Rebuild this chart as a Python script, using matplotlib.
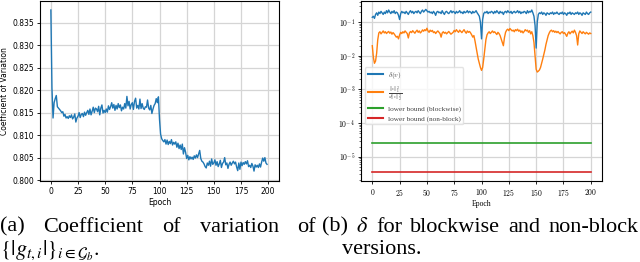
import numpy as np
import matplotlib as mpl
mpl.use('Agg')
from matplotlib import pyplot as plt

# ----- data
cv_values = [
    0.8378, 0.8205, 0.8138, 0.8172, 0.8181, 0.8188, 0.8163, 0.8160, 0.8157, 0.8154,
    0.8150, 0.8152, 0.8142, 0.8146, 0.8138, 0.8141, 0.8137, 0.8143, 0.8139, 0.8145,
    0.8136, 0.8140, 0.8147, 0.8129, 0.8138, 0.8142, 0.8150, 0.8139, 0.8146, 0.8148,
    0.8141, 0.8151, 0.8144, 0.8150, 0.8155, 0.8146, 0.8158, 0.8145, 0.8153, 0.8162,
    0.8150, 0.8160, 0.8158, 0.8152, 0.8164, 0.8145, 0.8160, 0.8167, 0.8149, 0.8155,
    0.8150, 0.8158, 0.8151, 0.8165, 0.8157, 0.8163, 0.8172, 0.8160, 0.8168, 0.8155,
    0.8166, 0.8158, 0.8170, 0.8161, 0.8167, 0.8154, 0.8162, 0.8158, 0.8170, 0.8160,
    0.8186, 0.8165, 0.8175, 0.8158, 0.8168, 0.8172, 0.8157, 0.8175, 0.8182, 0.8160,
    0.8166, 0.8158, 0.8180, 0.8159, 0.8170, 0.8160, 0.8157, 0.8163, 0.8162, 0.8178,
    0.8160, 0.8156, 0.8166, 0.8148, 0.8158, 0.8166, 0.8170, 0.8181, 0.8172, 0.8185,
    0.8135, 0.8102, 0.8092, 0.8088, 0.8085, 0.8090, 0.8080, 0.8089, 0.8079, 0.8086,
    0.8081, 0.8090, 0.8078, 0.8084, 0.8080, 0.8085, 0.8073, 0.8082, 0.8070, 0.8078,
    0.8068, 0.8080, 0.8058, 0.8072, 0.8062, 0.8048, 0.8055, 0.8045, 0.8052, 0.8047,
    0.8051, 0.8046, 0.8054, 0.8049, 0.8056, 0.8050, 0.8058, 0.8066, 0.8048, 0.8042,
    0.8040, 0.8036, 0.8030, 0.8027, 0.8038, 0.8033, 0.8042, 0.8031, 0.8047, 0.8035,
    0.8038, 0.8045, 0.8033, 0.8041, 0.8030, 0.8036, 0.8044, 0.8028, 0.8037, 0.8040,
    0.8050, 0.8034, 0.8038, 0.8026, 0.8035, 0.8040, 0.8033, 0.8038, 0.8042, 0.8036,
    0.8040, 0.8029, 0.8021, 0.8038, 0.8024, 0.8040, 0.8032, 0.8039, 0.8035, 0.8041,
    0.8036, 0.8043, 0.8030, 0.8033, 0.8028, 0.8037, 0.8031, 0.8020, 0.8034, 0.8029,
    0.8033, 0.8028, 0.8036, 0.8029, 0.8040, 0.8049, 0.8042, 0.8050, 0.8038, 0.8035,
]

delta_v = [
    0.14, 0.15, 0.13, 0.17, 0.19, 0.16, 0.20, 0.18, 0.21, 0.19,
    0.17, 0.20, 0.18, 0.22, 0.19, 0.23, 0.20, 0.18, 0.21, 0.19,
    0.22, 0.18, 0.20, 0.19, 0.16, 0.12, 0.18, 0.21, 0.19, 0.20,
    0.18, 0.21, 0.19, 0.17, 0.20, 0.22, 0.19, 0.21, 0.18, 0.20,
    0.21, 0.19, 0.22, 0.20, 0.18, 0.21, 0.23, 0.20, 0.22, 0.24,
    0.22, 0.20, 0.21, 0.19, 0.20, 0.18, 0.21, 0.19, 0.16, 0.20,
    0.21, 0.19, 0.20, 0.18, 0.22, 0.19, 0.17, 0.20, 0.21, 0.19,
    0.18, 0.20, 0.22, 0.19, 0.21, 0.20, 0.18, 0.21, 0.19, 0.20,
    0.22, 0.19, 0.20, 0.18, 0.21, 0.19, 0.20, 0.22, 0.19, 0.21,
    0.20, 0.18, 0.21, 0.19, 0.20, 0.22, 0.19, 0.17, 0.15, 0.10,
    0.032, 0.12, 0.18, 0.20, 0.19, 0.21, 0.18, 0.20, 0.19, 0.21,
    0.20, 0.18, 0.21, 0.19, 0.22, 0.20, 0.18, 0.21, 0.19, 0.20,
    0.17, 0.20, 0.21, 0.19, 0.22, 0.20, 0.19, 0.21, 0.18, 0.20,
    0.21, 0.19, 0.20, 0.22, 0.19, 0.21, 0.18, 0.20, 0.19, 0.21,
    0.20, 0.18, 0.22, 0.19, 0.21, 0.20, 0.23, 0.19, 0.15, 0.08,
    0.017, 0.10, 0.17, 0.19, 0.18, 0.20, 0.17, 0.19, 0.18, 0.16,
    0.19, 0.18, 0.17, 0.19, 0.18, 0.20, 0.17, 0.19, 0.18, 0.20,
    0.18, 0.17, 0.19, 0.18, 0.20, 0.17, 0.19, 0.18, 0.16, 0.19,
    0.18, 0.20, 0.17, 0.19, 0.18, 0.17, 0.19, 0.18, 0.20, 0.17,
    0.19, 0.18, 0.16, 0.19, 0.18, 0.17, 0.20, 0.18, 0.17, 0.19,
    0.20,
]

norm_ratio = [
    0.020, 0.009, 0.006, 0.007, 0.012, 0.030, 0.048, 0.052, 0.045, 0.050,
    0.055, 0.048, 0.052, 0.046, 0.050, 0.053, 0.047, 0.051, 0.044, 0.049,
    0.045, 0.040, 0.036, 0.038, 0.032, 0.042, 0.050, 0.046, 0.052, 0.048,
    0.055, 0.050, 0.046, 0.034, 0.048, 0.053, 0.049, 0.056, 0.051, 0.047,
    0.053, 0.058, 0.050, 0.055, 0.048, 0.052, 0.059, 0.054, 0.060, 0.056,
    0.066, 0.055, 0.050, 0.058, 0.053, 0.057, 0.049, 0.052, 0.046, 0.051,
    0.055, 0.050, 0.046, 0.036, 0.048, 0.052, 0.047, 0.050, 0.045, 0.049,
    0.053, 0.048, 0.044, 0.047, 0.050, 0.057, 0.052, 0.060, 0.054, 0.050,
    0.058, 0.053, 0.049, 0.054, 0.060, 0.052, 0.047, 0.055, 0.050, 0.053,
    0.048, 0.042, 0.036, 0.040, 0.028, 0.018, 0.012, 0.008, 0.006, 0.0045,
    0.0037, 0.0045, 0.008, 0.016, 0.030, 0.042, 0.048, 0.052, 0.046, 0.050,
    0.055, 0.049, 0.052, 0.047, 0.043, 0.050, 0.046, 0.040, 0.032, 0.025,
    0.020, 0.035, 0.050, 0.058, 0.062, 0.056, 0.065, 0.060, 0.055, 0.058,
    0.052, 0.060, 0.056, 0.062, 0.054, 0.058, 0.050, 0.055, 0.048, 0.053,
    0.060, 0.055, 0.058, 0.050, 0.056, 0.045, 0.052, 0.040, 0.025, 0.010,
    0.0040, 0.0033, 0.0035, 0.0038, 0.0045, 0.006, 0.008, 0.011, 0.015, 0.022,
    0.030, 0.040, 0.048, 0.055, 0.058, 0.052, 0.056, 0.050, 0.054, 0.049,
    0.053, 0.048, 0.045, 0.050, 0.052, 0.046, 0.049, 0.043, 0.038, 0.047,
    0.052, 0.045, 0.050, 0.054, 0.048, 0.058, 0.050, 0.040, 0.021, 0.045,
    0.055, 0.050, 0.046, 0.052, 0.048, 0.045, 0.050, 0.047, 0.044, 0.048,
    0.046,
]

bound_blockwise = 2.6e-5
bound_nonblock = 3.5e-6
epoch_ticks = [0, 25, 50, 75, 100, 125, 150, 175, 200]
cv_ticks = [0.800, 0.805, 0.810, 0.815, 0.820, 0.825, 0.830, 0.835]

labels_b = [r'$\delta(v)$',
            r'$\frac{\|v\|_1^2}{d\|v\|_2^2}$',
            'lower bound (blockwise)',
            'lower bound (non-block)']

# caption lines: words, left and right edge of the justified line (pixels)
caption_a1 = (['(a)', 'Coefficient', 'of', 'variation', 'of'], 0, 316)
caption_a2 = r'$\{|g_{t,i}|\}_{i\in\mathcal{G}_b}.$'
caption_b1 = (['(b)', r'$\delta$', 'for', 'blockwise', 'and', 'non-block'], 322, 638)
caption_b2 = 'versions.'

W, H = 640, 262
GRID = dict(color='#d5d5d5', linewidth=0.9)
CAPTION = dict(fontsize=16, family='Liberation Serif', math_fontfamily='stix',
               va='baseline', ha='left')


def plot_cv(ax):
    """Left panel: coefficient of variation per epoch."""
    ax.plot(np.arange(len(cv_values)), cv_values, color='C0', linewidth=1.0)
    ax.set_xlim(-10, 210)
    ax.set_ylim(0.7998, 0.8398)
    ax.set_xticks(epoch_ticks)
    ax.set_yticks(cv_ticks)
    ax.set_yticklabels(['%.3f' % v for v in cv_ticks])
    ax.tick_params(labelsize=5.5, length=2.5, width=0.6, pad=1.5)
    ax.grid(True, **GRID)
    ax.set_axisbelow(True)
    ax.set_xlabel('Epoch', fontsize=5.5, labelpad=1.5)
    ax.set_ylabel('Coefficient of Variation', fontsize=5.5, labelpad=3)


def plot_delta(ax):
    """Right panel: delta for blockwise / non-block, log scale."""
    x = np.arange(len(delta_v))
    ax.plot(x, delta_v, color='C0', linewidth=1.0, label=labels_b[0])
    ax.plot(x, norm_ratio, color='C1', linewidth=1.0, label=labels_b[1])
    ax.plot([0, 200], [bound_blockwise] * 2, color='C2', linewidth=1.2, label=labels_b[2])
    ax.plot([0, 200], [bound_nonblock] * 2, color='C3', linewidth=1.2, label=labels_b[3])
    ax.set_yscale('log')
    ax.set_xlim(-10.6, 210)
    ax.set_ylim(10 ** -5.72, 10 ** -0.37)
    ax.set_xticks(epoch_ticks)
    ax.set_yticks([1e-5, 1e-4, 1e-3, 1e-2, 1e-1])
    ax.set_yticklabels([r'$10^{-%d}$' % k for k in (5, 4, 3, 2, 1)])
    ax.set_xticklabels([r'$%d$' % t for t in epoch_ticks])
    for lab in ax.get_xticklabels() + ax.get_yticklabels():
        lab.set_math_fontfamily('cm')
    ax.tick_params(labelsize=5.5, length=2.5, width=0.6, pad=1.5)
    ax.tick_params(which='minor', length=1.5, width=0.4)
    ax.grid(True, which='major', **GRID)
    ax.set_axisbelow(True)
    ax.set_xlabel('Epoch', fontsize=5.5, labelpad=1.5, family='Liberation Serif')
    leg = ax.legend(loc='upper left', bbox_to_anchor=(0.0, 0.657),
                    handlelength=2.1, handletextpad=0.7, borderpad=0.35,
                    labelspacing=0.45, borderaxespad=0.6,
                    framealpha=0.8, edgecolor='#dddddd', fancybox=True,
                    prop=dict(family='Liberation Serif', size=5.2, math_fontfamily='cm'))
    for line in leg.get_lines():
        line.set_linewidth(1.5)
    for t in leg.get_texts():
        t.set_color('#444444')


def justified_line(fig, renderer, words, left, right, y):
    """Spread the words so the line runs from left to right (pixels)."""
    texts = [fig.text(0, y, w, **CAPTION) for w in words]
    widths = [t.get_window_extent(renderer).width for t in texts]
    gap = (right - left - sum(widths)) / (len(words) - 1)
    x = left
    for t, w in zip(texts, widths):
        t.set_x(x / W)
        x += w + gap


def draw_caption(fig):
    """Two-column caption under the panels, in a Times-like serif."""
    renderer = fig.canvas.get_renderer()
    y1 = 1 - 231.5 / H
    y2 = 1 - 254.5 / H
    justified_line(fig, renderer, *caption_a1, y1)
    justified_line(fig, renderer, *caption_b1, y1)
    fig.text(0 / W, y2, caption_a2, **CAPTION)
    fig.text(342 / W, y2, caption_b2, **CAPTION)


fig = plt.figure(figsize=(6.4, 2.62), dpi=100)
ax_a = fig.add_axes([40 / W, 1 - 181 / H, 239 / W, 180 / H])
ax_b = fig.add_axes([360.7 / W, 1 - 181 / H, 241 / W, 180 / H])
plot_cv(ax_a)
plot_delta(ax_b)
draw_caption(fig)
fig.savefig('out.png', dpi=100)
